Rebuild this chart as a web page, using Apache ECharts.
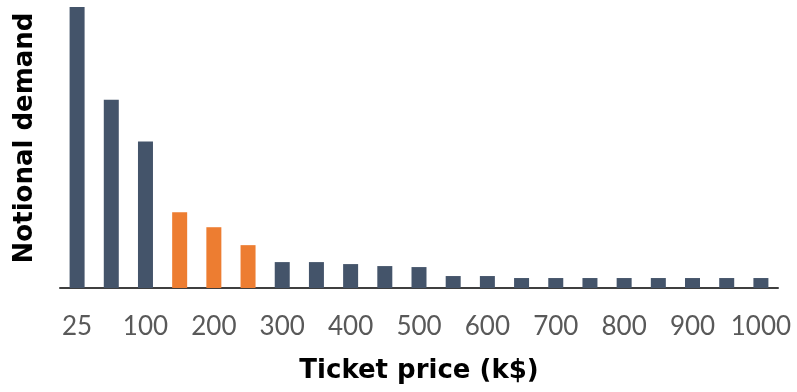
<!DOCTYPE html>
<html>
<head>
<meta charset="utf-8">
<script src="https://cdn.jsdelivr.net/npm/echarts@6/dist/echarts.min.js"></script>
<style>html,body{margin:0;padding:0;background:#fff}#c{width:797px;height:392px}</style>
</head>
<body>
<div id="c"></div>
<script>
const categories = ['25','50','100','150','200','250','300','350','400','450','500','550','600','650','700','750','800','850','900','950','1000'];
const demand = [282,189,147,76,61,43,26,26,24,22,21,12,12,10,10,10,10,10,10,10,10];
const highlighted = ['150','200','250'];
const xTitle = 'Ticket price (k$)';
const yTitle = 'Notional demand';

const chart = echarts.init(document.getElementById('c'), null, {renderer:'canvas'});
chart.setOption({
  animation:false,
  grid:{left:60,right:19,top:7,bottom:104,containLabel:false},
  xAxis:{
    type:'category',
    data:categories,
    axisTick:{show:false},
    axisLine:{lineStyle:{color:'#3f3f3f',width:2}},
    axisLabel:{interval:1,margin:26,color:'#595959',fontFamily:'Lato',fontSize:26},
    name:xTitle,
    nameLocation:'middle',
    nameGap:70,
    nameTextStyle:{color:'#000',fontFamily:'DejaVu Sans',fontWeight:'bold',fontSize:26}
  },
  yAxis:{
    type:'value',min:0,max:'dataMax',
    show:false,
    splitLine:{show:false}
  },
  graphic:[{
    type:'text',x:25,y:138,rotation:Math.PI/2,
    style:{text:yTitle,font:'bold 26px "DejaVu Sans"',fill:'#000',textAlign:'center',textVerticalAlign:'middle'}
  }],
  series:[{
    type:'bar',
    barWidth:15,
    data:demand.map((v,i)=>({value:v,itemStyle:{color:highlighted.includes(categories[i])?'#ED7D31':'#44546A'}}))
  }]
});
</script>
</body>
</html>
